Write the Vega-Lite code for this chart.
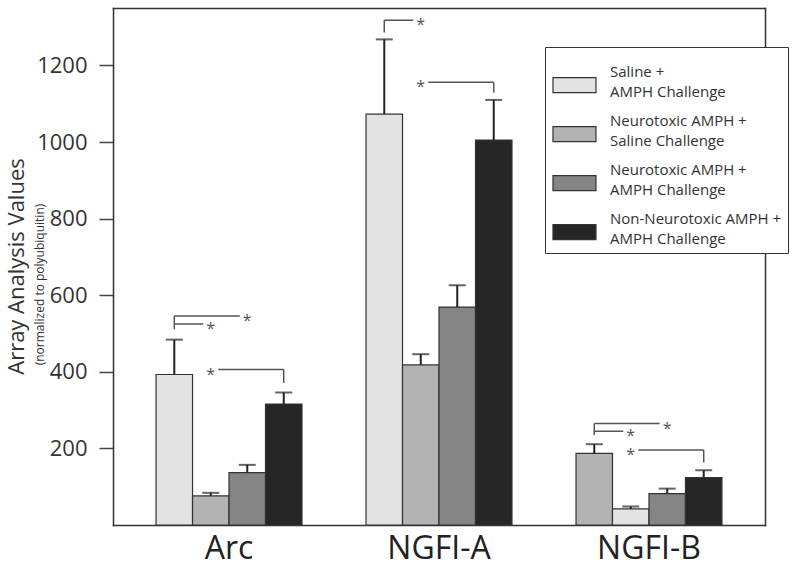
{
  "$schema": "https://vega.github.io/schema/vega-lite/v6.json",
  "width": 652,
  "height": 517,
  "autosize": {"type": "none"},
  "padding": {"left": 113, "top": 8, "right": 29, "bottom": 43},
  "background": "white",
  "config": {
    "font": "Open Sans",
    "view": {"stroke": null},
    "axis": {"grid": false, "domainColor": "#333", "domainWidth": 1.5, "domainCap": "square"},
    "style": {"guide-label": {"lineHeight": 20}}
  },
  "datasets": {
    "bars": [
      {"gene": "Arc", "series": "Saline + AMPH Challenge", "value": 393, "upper": 484},
      {"gene": "Arc", "series": "Neurotoxic AMPH + Saline Challenge", "value": 76, "upper": 84},
      {"gene": "Arc", "series": "Neurotoxic AMPH + AMPH Challenge", "value": 137, "upper": 157},
      {"gene": "Arc", "series": "Non-Neurotoxic AMPH + AMPH Challenge", "value": 316, "upper": 346},
      {"gene": "NGFI-A", "series": "Saline + AMPH Challenge", "value": 1073, "upper": 1268},
      {"gene": "NGFI-A", "series": "Neurotoxic AMPH + Saline Challenge", "value": 418, "upper": 446},
      {"gene": "NGFI-A", "series": "Neurotoxic AMPH + AMPH Challenge", "value": 569, "upper": 626},
      {"gene": "NGFI-A", "series": "Non-Neurotoxic AMPH + AMPH Challenge", "value": 1005, "upper": 1110},
      {"gene": "NGFI-B", "series": "Saline + AMPH Challenge", "value": 187, "upper": 211},
      {"gene": "NGFI-B", "series": "Neurotoxic AMPH + Saline Challenge", "value": 42, "upper": 48},
      {"gene": "NGFI-B", "series": "Neurotoxic AMPH + AMPH Challenge", "value": 82, "upper": 95},
      {"gene": "NGFI-B", "series": "Non-Neurotoxic AMPH + AMPH Challenge", "value": 124, "upper": 143}
    ],
    "brackets": [
      {"id": "a1", "gene": "Arc", "from": "Saline + AMPH Challenge", "to": "Neurotoxic AMPH + AMPH Challenge", "level": 546, "low": 511},
      {"id": "a2", "gene": "Arc", "from": "Saline + AMPH Challenge", "to": "Neurotoxic AMPH + Saline Challenge", "level": 525, "low": null},
      {"id": "a3", "gene": "Arc", "from": "Non-Neurotoxic AMPH + AMPH Challenge", "to": "Neurotoxic AMPH + Saline Challenge", "level": 406, "low": 371},
      {"id": "b1", "gene": "NGFI-A", "from": "Saline + AMPH Challenge", "to": "Neurotoxic AMPH + Saline Challenge", "level": 1318, "low": 1286},
      {"id": "b2", "gene": "NGFI-A", "from": "Non-Neurotoxic AMPH + AMPH Challenge", "to": "Neurotoxic AMPH + Saline Challenge", "level": 1156, "low": 1129},
      {"id": "c1", "gene": "NGFI-B", "from": "Saline + AMPH Challenge", "to": "Neurotoxic AMPH + AMPH Challenge", "level": 265, "low": 235},
      {"id": "c2", "gene": "NGFI-B", "from": "Saline + AMPH Challenge", "to": "Neurotoxic AMPH + Saline Challenge", "level": 245, "low": null},
      {"id": "c3", "gene": "NGFI-B", "from": "Non-Neurotoxic AMPH + AMPH Challenge", "to": "Neurotoxic AMPH + Saline Challenge", "level": 196, "low": 163}
    ]
  },
  "resolve": {"axis": {"x": "independent", "y": "independent"}},
  "layer": [
    {
      "data": {"name": "bars"},
      "mark": {"type": "bar", "stroke": "#333", "strokeWidth": 1.2},
      "encoding": {
        "x": {
          "field": "gene", "type": "nominal", "sort": null,
          "scale": {"paddingInner": 0.305, "paddingOuter": 0.205},
          "axis": {"orient": "bottom", "title": null, "labelFontSize": 32, "labelColor": "#222", "labelAngle": 0, "labelPadding": 8, "ticks": false, "domain": true}
        },
        "xOffset": {
          "field": "series", "type": "nominal", "sort": null,
          "scale": {"domain": ["Saline + AMPH Challenge", "Neurotoxic AMPH + Saline Challenge", "Neurotoxic AMPH + AMPH Challenge", "Non-Neurotoxic AMPH + AMPH Challenge"]}
        },
        "y": {
          "field": "value", "type": "quantitative",
          "scale": {"domain": [0, 1350], "nice": false, "zero": true},
          "axis": {
            "orient": "left",
            "values": [200, 400, 600, 800, 1000, 1200], "format": "d",
            "title": "Array Analysis Values", "titleFontSize": 22, "titleFontWeight": "normal", "titleColor": "#333",
            "titleAngle": -90, "titleX": -90, "titleY": 258, "titleAlign": "center", "titleBaseline": "alphabetic",
            "labelFontSize": 22, "labelColor": "#333", "labelPadding": 12,
            "tickSize": 14, "tickWidth": 1.5, "tickColor": "#444", "domain": true, "grid": false
          }
        },
        "color": {
          "field": "series", "type": "nominal", "sort": null,
          "scale": {
            "domain": ["Saline + AMPH Challenge", "Neurotoxic AMPH + Saline Challenge", "Neurotoxic AMPH + AMPH Challenge", "Non-Neurotoxic AMPH + AMPH Challenge"],
            "range": ["#e3e3e3", "#b3b3b3", "#858585", "#262626"]
          },
          "condition": [
            {"test": "datum.gene === 'NGFI-B' && datum.series === 'Saline + AMPH Challenge'", "value": "#b3b3b3"},
            {"test": "datum.gene === 'NGFI-B' && datum.series === 'Neurotoxic AMPH + Saline Challenge'", "value": "#e3e3e3"}
          ],
          "legend": {
            "title": null,
            "orient": "none", "legendX": 432, "legendY": 39,
            "symbolType": "M-0.95,0.31H1.45V1.15H-0.95Z", "symbolSize": 1284,
            "symbolStrokeColor": "#333", "symbolStrokeWidth": 1.2, "symbolOpacity": 1,
            "labelExpr": "split(replace(datum.label, '+ ', '+|'), '|')",
            "labelFontSize": 15, "labelColor": "#333", "labelOffset": 21, "labelLimit": 300,
            "labelBaseline": "middle",
            "padding": 6, "rowPadding": 2,
            "fillColor": "white", "strokeColor": "#333"
          }
        }
      }
    },
    {
      "data": {"name": "bars"},
      "mark": {"type": "rule", "color": "#222", "strokeWidth": 2},
      "encoding": {
        "x": {"field": "gene", "type": "nominal", "sort": null,
          "axis": {"orient": "top", "title": null, "labels": false, "ticks": false, "domain": true, "grid": false}},
        "xOffset": {"field": "series", "type": "nominal", "sort": null},
        "y": {
          "field": "value", "type": "quantitative",
          "scale": {"domain": [0, 1350], "nice": false, "zero": true},
          "axis": {
            "orient": "left", "title": "(normalized to polyubiquitin)", "titleFontSize": 12, "titleFontWeight": "normal", "titleColor": "#333",
            "titleAngle": -90, "titleX": -70, "titleY": 276, "titleAlign": "center", "titleBaseline": "alphabetic",
            "labels": false, "ticks": false, "domain": false, "grid": false
          }
        },
        "y2": {"field": "upper"}
      }
    },
    {
      "data": {"name": "bars"},
      "mark": {"type": "tick", "color": "#222", "size": 17, "thickness": 2},
      "encoding": {
        "x": {"field": "gene", "type": "nominal", "sort": null, "axis": null},
        "xOffset": {"field": "series", "type": "nominal", "sort": null},
        "y": {"field": "upper", "type": "quantitative", "scale": {"domain": [0, 1350], "nice": false, "zero": true},
          "axis": {"orient": "right", "title": null, "labels": false, "ticks": false, "domain": true, "grid": false}}
      }
    },
    {
      "data": {"name": "brackets"},
      "transform": [{"filter": "datum.low != null"}],
      "mark": {"type": "rule", "color": "#555", "strokeWidth": 1.5},
      "encoding": {
        "x": {"field": "gene", "type": "nominal", "sort": null, "axis": null},
        "xOffset": {"field": "from", "type": "nominal", "sort": null},
        "y": {"field": "level", "type": "quantitative", "scale": {"domain": [0, 1350], "nice": false, "zero": true}, "axis": null},
        "y2": {"field": "low"}
      }
    },
    {
      "data": {"name": "brackets"},
      "transform": [{"fold": ["from", "to"], "as": ["end", "point"]}],
      "mark": {"type": "line", "color": "#555", "strokeWidth": 1.5},
      "encoding": {
        "x": {"field": "gene", "type": "nominal", "sort": null, "axis": null},
        "xOffset": {"field": "point", "type": "nominal", "sort": null},
        "y": {"field": "level", "type": "quantitative", "scale": {"domain": [0, 1350], "nice": false, "zero": true}, "axis": null},
        "detail": {"field": "id"}
      }
    },
    {
      "data": {"name": "brackets"},
      "mark": {"type": "point", "shape": "M-1,-0.3H1V0.3H-1Z", "size": 225, "filled": true, "fill": "white", "opacity": 1, "strokeWidth": 0},
      "encoding": {
        "x": {"field": "gene", "type": "nominal", "sort": null, "axis": null},
        "xOffset": {"field": "to", "type": "nominal", "sort": null},
        "y": {"field": "level", "type": "quantitative", "scale": {"domain": [0, 1350], "nice": false, "zero": true}, "axis": null}
      }
    },
    {
      "data": {"name": "brackets"},
      "mark": {"type": "text", "text": "*", "fontSize": 16, "color": "#555", "baseline": "middle", "align": "center", "dy": 5},
      "encoding": {
        "x": {"field": "gene", "type": "nominal", "sort": null, "axis": null},
        "xOffset": {"field": "to", "type": "nominal", "sort": null},
        "y": {"field": "level", "type": "quantitative", "scale": {"domain": [0, 1350], "nice": false, "zero": true}, "axis": null}
      }
    }
  ]
}
